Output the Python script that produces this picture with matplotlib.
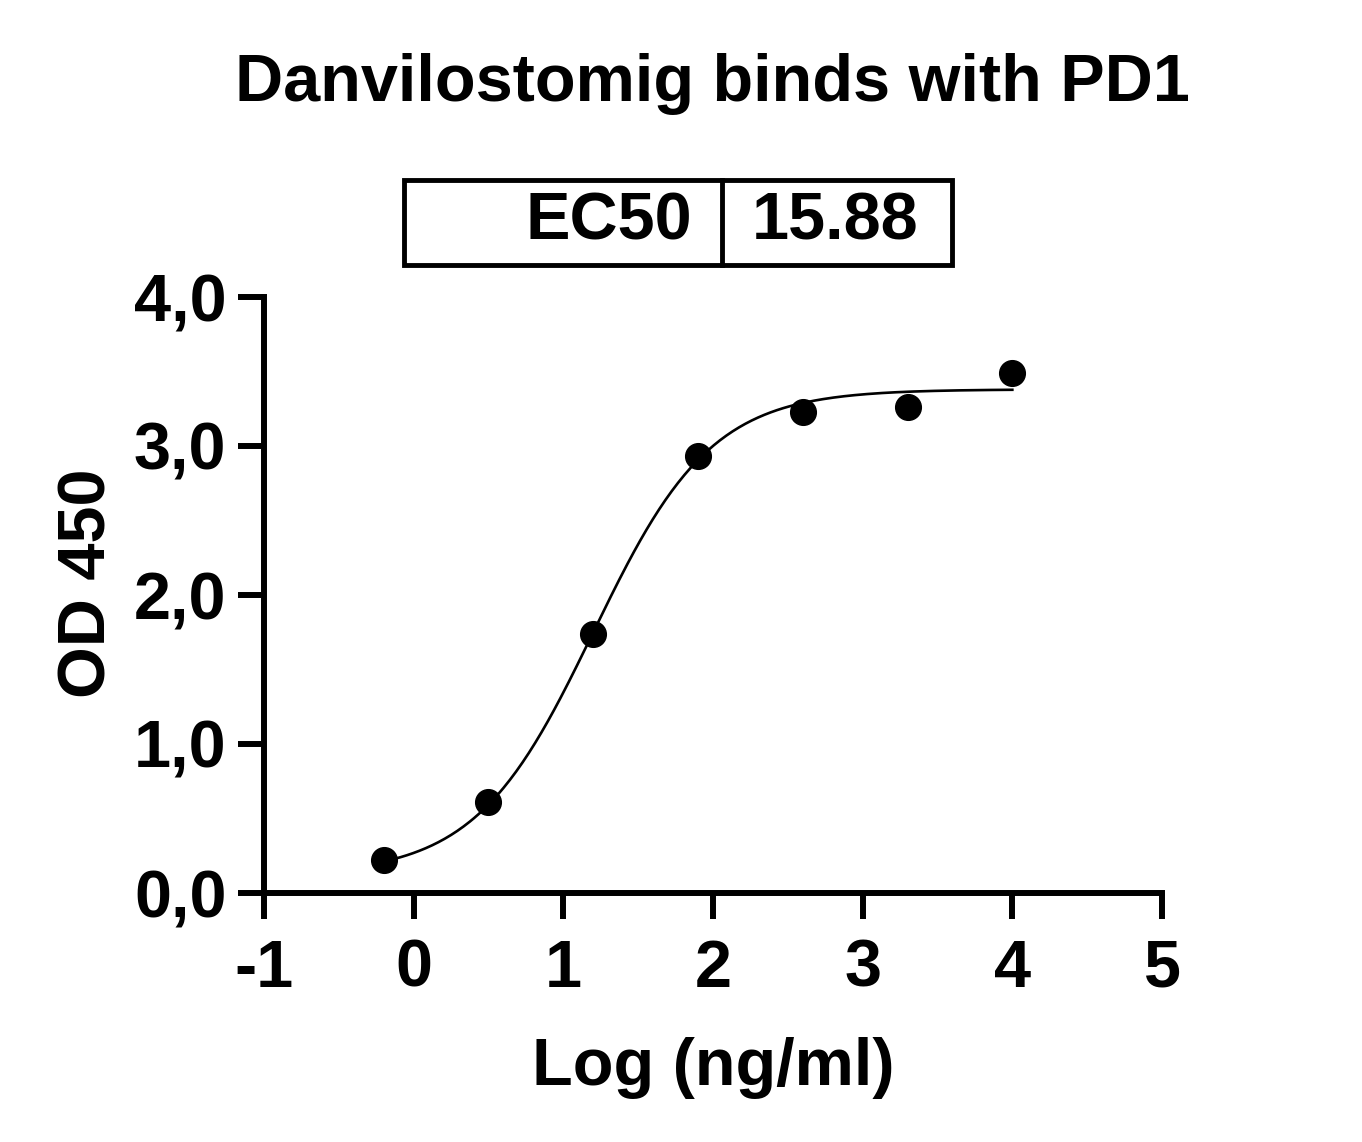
import numpy as np
import matplotlib
matplotlib.use("Agg")
import matplotlib.pyplot as plt
from matplotlib.patches import Rectangle
from matplotlib.lines import Line2D
from matplotlib.ticker import FuncFormatter

plt.rcParams["font.family"] = ["Liberation Sans", "DejaVu Sans"]
plt.rcParams["font.weight"] = "bold"
plt.rcParams["axes.unicode_minus"] = False

# Maalepunkter (log koncentration, OD450)
log_conc = [-0.2, 0.5, 1.2, 1.9, 2.6, 3.3, 4.0]
od450 = [0.22, 0.61, 1.74, 2.93, 3.23, 3.26, 3.49]

# 4PL fit parametre
bottom = 0.12
top = 3.38
log_ec50 = 1.2
hill = 1.1
ec50_text = "15.88"

x_ticks = [-1, 0, 1, 2, 3, 4, 5]
y_ticks = [0, 1, 2, 3, 4]

fig = plt.figure(figsize=(13.62, 11.42), dpi=100)
ax = fig.add_axes([264 / 1362, 1 - 893 / 1142, 898 / 1362, 596 / 1142])

xfit = np.linspace(min(log_conc), max(log_conc), 300)
yfit = bottom + (top - bottom) / (1 + 10 ** ((log_ec50 - xfit) * hill))
ax.plot(xfit, yfit, color="black", lw=1.9)
ax.plot(log_conc, od450, "o", color="black", ms=18.5, clip_on=False)

ax.set_xlim(-1, 5)
ax.set_ylim(0, 4)
ax.set_xticks(x_ticks)
ax.set_yticks(y_ticks)
ax.xaxis.set_major_formatter(FuncFormatter(lambda v, p: f"{v:.0f}"))
ax.yaxis.set_major_formatter(FuncFormatter(lambda v, p: f"{v:.1f}".replace(".", ",")))
for s in ["top", "right"]:
    ax.spines[s].set_visible(False)
for s in ["left", "bottom"]:
    ax.spines[s].set_linewidth(4.3)
ax.tick_params(width=4.3, length=19, labelsize=48)
ax.tick_params(axis="x", pad=14)
ax.tick_params(axis="y", pad=8)
for lab in ax.get_xticklabels() + ax.get_yticklabels():
    lab.set_fontweight("bold")

ax.set_xlabel("Log (ng/ml)", fontsize=48, fontweight="bold", labelpad=26)
ax.set_ylabel("OD 450", fontsize=48, fontweight="bold", labelpad=10)
ax.yaxis.label.set_y(0.52)
fig.text(712 / 1362, 1 - 84 / 1142, "Danvilostomig binds with PD1",
         fontsize=48, fontweight="bold", ha="center", va="center")

# EC50 tabel
W, H = 1362, 1142
box = Rectangle((404 / W, 1 - 265 / H), 548 / W, 85 / H, transform=fig.transFigure,
                fill=False, lw=3.5, ec="black")
fig.add_artist(box)
fig.add_artist(Line2D([722 / W, 722 / W], [1 - 180 / H, 1 - 265 / H],
                      transform=fig.transFigure, color="black", lw=3.5))
fig.text(692 / W, 1 - 222 / H, "EC50", fontsize=48, fontweight="bold",
         ha="right", va="center")
fig.text(835 / W, 1 - 222 / H, ec50_text, fontsize=48, fontweight="bold",
         ha="center", va="center")

fig.savefig("out.png", dpi=100)
